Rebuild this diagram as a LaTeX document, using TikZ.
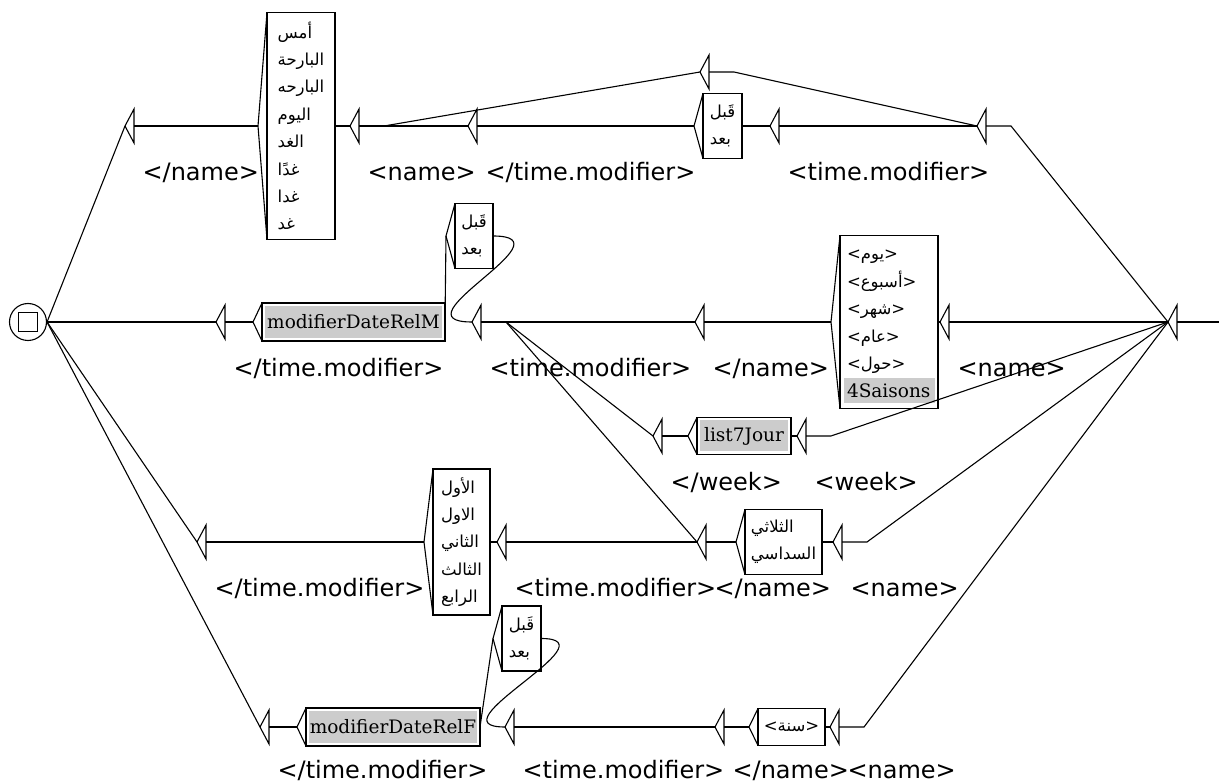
\documentclass[tikz,border=0pt]{standalone}
\usepackage{fontspec}
\usepackage{tikz}
\setmainfont{DejaVu Sans}
\newfontfamily\boxfont{DejaVu Serif}
\newfontfamily\arabicfont[Script=Arabic]{DejaVu Sans}
\newfontfamily\bracketfont{DejaVu Sans}
\TeXXeTstate=1
\definecolor{subgray}{RGB}{204,204,204}
\newcommand{\arwd}[1]{\beginR#1\endR}
\newcommand{\arlem}[1]{{\bracketfont<}\arwd{#1}{\bracketfont>}}

\begin{document}
\begin{tikzpicture}[x=1pt,y=-1pt,line width=1.1pt,
  eps/.style={minimum width=9pt,minimum height=34pt,inner sep=0pt,outer sep=0pt},
  arbox/.style={draw,inner sep=0pt,outer sep=0pt,align=left,
    font=\arabicfont\fontsize{16.5}{27.4}\selectfont},
  subbox/.style={draw,inner sep=0pt,outer sep=0pt,font=\boxfont\fontsize{18.5}{22}\selectfont,
    path picture={\fill[subgray] ([shift={(3pt,-3pt)}]path picture bounding box.north west)
      rectangle ([shift={(-3pt,3pt)}]path picture bounding box.south east);}},
  outlbl/.style={anchor=mid west,inner sep=0pt,font=\fontsize{24}{28}\selectfont}]

  \useasboundingbox (0,0) rectangle (1219,783);

  % final state
  \node[draw,circle,minimum size=37pt,inner sep=0pt] (fin) at (28,322) {};
  \node[draw,minimum size=19pt,inner sep=0pt] (fin-sq) at (fin) {};

  % empty boxes
  \node[eps] (ta) at (129.5,126) {};
  \node[eps] (tb) at (354.5,126) {};
  \node[eps] (tc) at (472.5,126) {};
  \node[eps] (td) at (774.5,126) {};
  \node[eps] (te) at (981.5,126) {};
  \node[eps] (tu) at (704.5,72) {};
  \node[eps] (tm1) at (220.5,322) {};
  \node[eps] (tm2) at (476.5,322) {};
  \node[eps] (tm3) at (699.5,322) {};
  \node[eps] (tm4) at (944.5,322) {};
  \node[eps] (tw1) at (657.5,436) {};
  \node[eps] (tw2) at (801.5,436) {};
  \node[eps] (to1) at (201.5,542) {};
  \node[eps] (to2) at (501.5,542) {};
  \node[eps] (to3) at (701.5,542) {};
  \node[eps] (to4) at (837.5,542) {};
  \node[eps] (tf1) at (264.5,727) {};
  \node[eps] (tf2) at (509.5,727) {};
  \node[eps] (tf3) at (719.5,727) {};
  \node[eps] (tf4) at (834.5,727) {};
  \node[eps] (ini) at (1172.5,322) {};
  \coordinate (ini-out) at (1219,322);

  % boxes with words
  \node[arbox,minimum width=68pt,minimum height=227pt] (w) at (301,126)
    {\arwd{أمس}\\\arwd{البارحة}\\\arwd{البارحه}\\\arwd{اليوم}\\\arwd{الغد}\\\arwd{غدًا}\\\arwd{غدا}\\\arwd{غد}};
  \node[arbox,minimum width=39pt,minimum height=65pt] (q1) at (722.5,126) {\arwd{قَبل}\\\arwd{بعد}};
  \node[subbox,minimum width=183pt,minimum height=38pt] (m1) at (353.5,322) {modifierDateRelM};
  \node[arbox,minimum width=38pt,minimum height=65pt] (q2) at (474,236) {\arwd{قَبل}\\\arwd{بعد}};
  \node[arbox,minimum width=98pt,minimum height=173pt,text width=84pt] (s) at (889,322)
    {\rule{0pt}{17pt}\arlem{يوم}\\\arlem{أسبوع}\\\arlem{شهر}\\\arlem{عام}\\\arlem{حول}\\\phantom{\arlem{يوم}}};
  \node[fill=subgray,inner sep=0pt,inner xsep=3pt,minimum height=25pt,text width=85pt,align=left,
    font=\boxfont\fontsize{18.5}{22}\selectfont] (s-sub) at (889.5,390.5) {4Saisons};
  \node[subbox,minimum width=94pt,minimum height=37pt] (l7) at (744,436) {list7Jour};
  \node[arbox,minimum width=57pt,minimum height=146pt] (o) at (461.5,542)
    {\arwd{الأول}\\\arwd{الاول}\\\arwd{الثاني}\\\arwd{الثالث}\\\arwd{الرابع}};
  \node[arbox,minimum width=77pt,minimum height=65pt] (d) at (783.5,542) {\arwd{الثلاثي}\\\arwd{السداسي}};
  \node[subbox,minimum width=174pt,minimum height=38pt] (m2) at (393,727) {modifierDateRelF};
  \node[arbox,minimum width=39pt,minimum height=65pt] (q3) at (521.5,638.5) {\arwd{قَبل}\\\arwd{بعد}};
  \node[arbox,minimum width=67pt,minimum height=37pt] (y) at (791.5,727) {\arlem{سنة}};

  % outputs
  \foreach \t/\s in {ta/{</name>},tb/{<name>},tc/{</time.modifier>},td/{<time.modifier>},
      tm1/{</time.modifier>},tm2/{<time.modifier>},tm3/{</name>},tm4/{<name>},
      tw1/{</week>},tw2/{<week>},to1/{</time.modifier>},to2/{<time.modifier>},
      to3/{</name>},to4/{<name>}}
    \node[outlbl] (\t-lbl) at ([xshift=8pt,yshift=-52pt]\t.east) {\s};
  \foreach \t/\s in {tf1/{</time.modifier>},tf2/{<time.modifier>},tf3/{</name>},tf4/{<name>}}
    \node[outlbl] (\t-lbl) at ([xshift=8pt,yshift=-49pt]\t.east) {\s};

  % entry points of the boxes
  \foreach \b in {w,q1,m1,q2,s,l7,o,d,m2,q3,y} {
    \coordinate (\b-in) at ([xshift=-9pt]\b.west);
    \draw (\b.north west) -- (\b-in) -- (\b.south west);
  }
  \foreach \t in {ta,tb,tc,td,te,tu,tm1,tm2,tm3,tm4,tw1,tw2,to1,to2,to3,to4,tf1,tf2,tf3,tf4,ini}
    \draw (\t.north east) -- (\t.west) -- (\t.south east) -- cycle;

  % transitions
  \foreach \b in {ta,tm1,to1,tf1}
    \draw (fin.east) -- (\b.west);
  \foreach \a/\b in {ta/w-in,tb/tc.west,tb/tu.west,tc/q1-in,td/te.west,tu/te.west,te/ini.west,
      tm1/m1-in,tm2/tm3.west,tm2/tw1.west,tm2/to3.west,tm3/s-in,tm4/ini.west,
      tw1/l7-in,tw2/ini.west,to1/o-in,to2/to3.west,to3/d-in,to4/ini.west,
      tf1/m2-in,tf2/tf3.west,tf3/y-in,tf4/ini.west}
    \draw (\a.east) -- ++(25,0) -- (\b);
  \foreach \a/\b in {w/tb.west,q1/td.west,m1/q2-in,s/tm4.west,l7/tw2.west,
      o/to2.west,d/to4.west,m2/q3-in,y/tf4.west}
    \draw (\a.east) -- (\b);
  \draw (q2.east) .. controls +(80,0) and +(-80,0) .. (tm2.west);
  \draw (q3.east) .. controls +(75,0) and +(-75,0) .. (tf2.west);
  \draw (ini.east) -- (ini-out);
\end{tikzpicture}
\end{document}
